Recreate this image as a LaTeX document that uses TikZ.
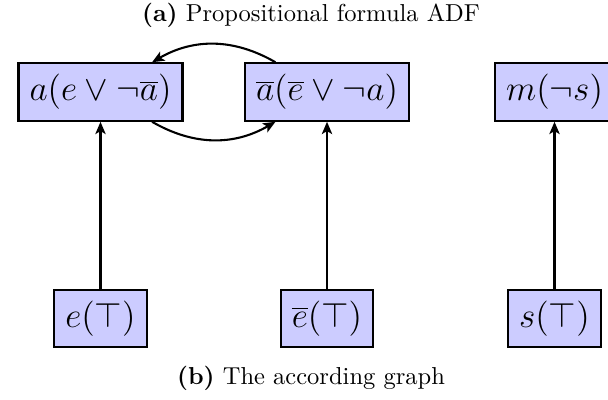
\documentclass[tikz,border=0pt]{standalone}
\usetikzlibrary{arrows.meta}
\begin{document}
\begin{tikzpicture}[x=0.408pt,y=-0.408pt,
  box/.style={draw=black,line width=0.9pt,fill=blue!20,inner sep=4.5pt,
    font=\fontsize{15.3}{18}\selectfont},
  arr/.style={line width=0.85pt,-{Stealth[length=5pt,width=4.2pt,inset=1.2pt]}},
  captext/.style={font=\normalsize}]
\useasboundingbox (0,0) rectangle (608,399);
\clip (0,0) rectangle (608,399);
\node[captext] (ca) at (311,15) {\textbf{(a)} Propositional formula ADF};
\node[box] (a) at (100.5,92) {$a(e \vee \neg\overline{a})$};
\node[box] (ab) at (327,92) {$\overline{a}(\overline{e} \vee \neg a)$};
\node[box] (m) at (554.5,92) {$m(\neg s)$};
\node[box] (e) at (100.5,318.5) {$e(\top)$};
\node[box] (eb) at (327,318.5) {$\overline{e}(\top)$};
\node[box] (s) at (554.5,318.5) {$s(\top)$};
\node[captext] (cb) at (311,378) {\textbf{(b)} The according graph};
\draw[arr] (e) -- (a);
\draw[arr] (eb) -- (ab);
\draw[arr] (s) -- (m);
\draw[arr] (a) to[bend right=30] (ab);
\draw[arr] (ab) to[bend right=30] (a);
\end{tikzpicture}
\end{document}
